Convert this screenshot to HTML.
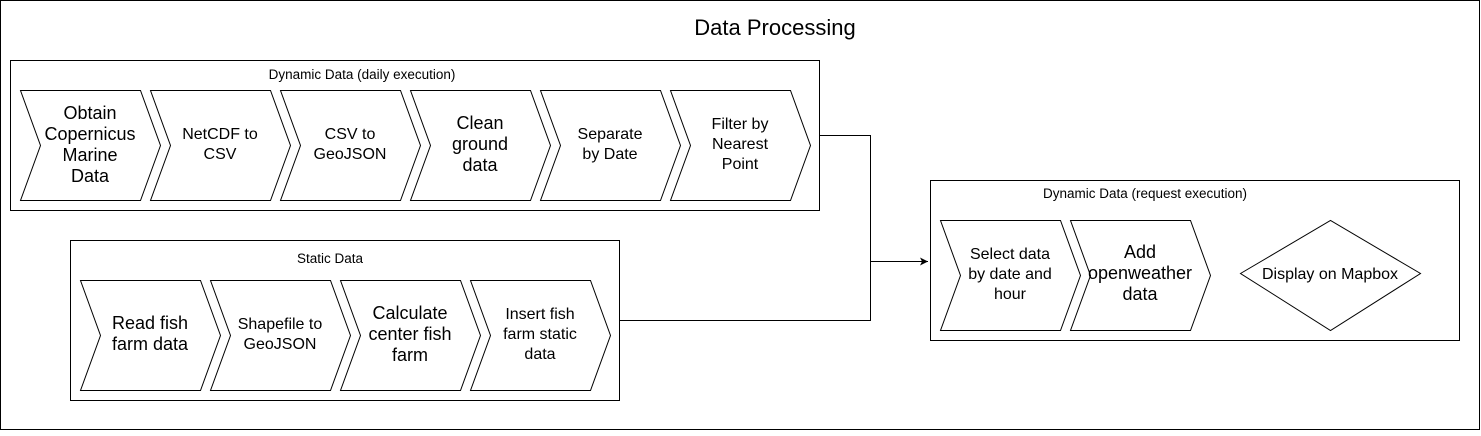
<!DOCTYPE html>
<html><head><meta charset="utf-8"><style>
html,body{margin:0;padding:0;background:#fff;}
text{font-family:"Liberation Sans",Arial,sans-serif;fill:#000;}
</style></head><body>
<svg width="1481" height="431" viewBox="0 0 1481 431" xmlns="http://www.w3.org/2000/svg">
<defs>
<marker id="ar" markerWidth="10" markerHeight="10" refX="8" refY="4" orient="auto" markerUnits="userSpaceOnUse">
<path d="M0,0 L8,4 L0,8 L2,4 Z" fill="#000"/>
</marker>
</defs>
<rect x="0.5" y="0.5" width="1479" height="429" fill="#fff" stroke="#000"/>
<text x="775" y="35" font-size="22" text-anchor="middle">Data Processing</text>

<rect x="10.5" y="60.5" width="809" height="150" fill="none" stroke="#000"/>
<text x="362" y="79" font-size="13.5" text-anchor="middle">Dynamic Data (daily execution)</text>
<g fill="#fff" stroke="#000">
<path d="M20.5,90.5 H140.5 L160.5,145.5 L140.5,200.5 H20.5 L40.5,145.5 Z"/>
<path d="M150.5,90.5 H270.5 L290.5,145.5 L270.5,200.5 H150.5 L170.5,145.5 Z"/>
<path d="M280.5,90.5 H400.5 L420.5,145.5 L400.5,200.5 H280.5 L300.5,145.5 Z"/>
<path d="M410.5,90.5 H530.5 L550.5,145.5 L530.5,200.5 H410.5 L430.5,145.5 Z"/>
<path d="M540.5,90.5 H660.5 L680.5,145.5 L660.5,200.5 H540.5 L560.5,145.5 Z"/>
<path d="M670.5,90.5 H790.5 L810.5,145.5 L790.5,200.5 H670.5 L690.5,145.5 Z"/>
</g>
<g font-size="18" text-anchor="middle">
<text x="90" y="119">Obtain</text><text x="90" y="140">Copernicus</text><text x="90" y="161">Marine</text><text x="90" y="182">Data</text>
<text x="480" y="129">Clean</text><text x="480" y="150">ground</text><text x="480" y="171">data</text>
</g>
<g font-size="16" text-anchor="middle">
<text x="220" y="139">NetCDF to</text><text x="220" y="159">CSV</text>
<text x="350" y="139">CSV to</text><text x="350" y="159">GeoJSON</text>
<text x="610" y="139">Separate</text><text x="610" y="159">by Date</text>
<text x="740" y="129">Filter by</text><text x="740" y="149">Nearest</text><text x="740" y="169">Point</text>
</g>

<rect x="70.5" y="240.5" width="549" height="160" fill="none" stroke="#000"/>
<text x="330" y="263" font-size="13.5" text-anchor="middle">Static Data</text>
<g fill="#fff" stroke="#000">
<path d="M80.5,280.5 H200.5 L220.5,335.5 L200.5,390.5 H80.5 L100.5,335.5 Z"/>
<path d="M210.5,280.5 H330.5 L350.5,335.5 L330.5,390.5 H210.5 L230.5,335.5 Z"/>
<path d="M340.5,280.5 H460.5 L480.5,335.5 L460.5,390.5 H340.5 L360.5,335.5 Z"/>
<path d="M470.5,280.5 H590.5 L610.5,335.5 L590.5,390.5 H470.5 L490.5,335.5 Z"/>
</g>
<g font-size="18" text-anchor="middle">
<text x="150" y="329">Read fish</text><text x="150" y="350">farm data</text>
<text x="410" y="319">Calculate</text><text x="410" y="340">center fish</text><text x="410" y="361">farm</text>
</g>
<g font-size="16" text-anchor="middle">
<text x="280" y="329">Shapefile to</text><text x="280" y="349">GeoJSON</text>
<text x="540" y="319">Insert fish</text><text x="540" y="339">farm static</text><text x="540" y="359">data</text>
</g>

<path d="M820,135.5 H870.5 V320.5 H620" fill="none" stroke="#000"/>
<path d="M870.5,261.5 H928" fill="none" stroke="#000" marker-end="url(#ar)"/>

<rect x="930.5" y="180.5" width="529" height="160" fill="none" stroke="#000"/>
<text x="1145" y="198" font-size="13.5" text-anchor="middle">Dynamic Data (request execution)</text>
<g fill="#fff" stroke="#000">
<path d="M940.5,220.5 H1060.5 L1080.5,275.5 L1060.5,330.5 H940.5 L960.5,275.5 Z"/>
<path d="M1070.5,220.5 H1190.5 L1210.5,275.5 L1190.5,330.5 H1070.5 L1090.5,275.5 Z"/>
<path d="M1240.5,273.5 L1330.5,220.5 L1420.5,273.5 L1330.5,330.5 Z"/>
</g>
<g font-size="16" text-anchor="middle">
<text x="1010" y="259">Select data</text><text x="1010" y="279">by date and</text><text x="1010" y="299">hour</text>
<text x="1330" y="279">Display on Mapbox</text>
</g>
<g font-size="18" text-anchor="middle">
<text x="1140" y="258">Add</text><text x="1140" y="279">openweather</text><text x="1140" y="300">data</text>
</g>
</svg>
</body></html>
